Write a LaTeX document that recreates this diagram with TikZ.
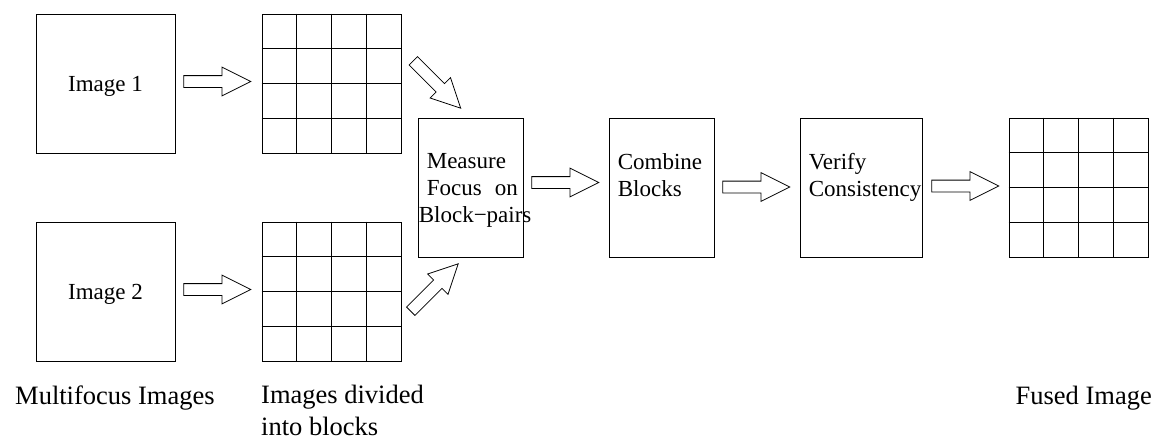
\documentclass[tikz,border=0pt]{standalone}
\usepackage{fontspec}
\setmainfont{Liberation Serif}
\usetikzlibrary{calc,shapes.arrows}

\begin{document}
\begin{tikzpicture}[x=1pt,y=-1pt]
% Block style
\tikzset{
    imgbox/.style={draw, line width=0.8pt, minimum width=139pt, minimum height=139pt,
        inner sep=0pt, text depth=0pt, font=\fontsize{23}{27}\selectfont},
    stagebox/.style={draw, line width=0.8pt, minimum height=139pt, inner sep=0pt},
    stagetext/.style={anchor=north west, inner sep=0pt, align=left,
        font=\fontsize{23}{27}\selectfont},
    caption/.style={inner sep=0pt, align=left, font=\fontsize{26.5}{32}\selectfont},
    fatarrow/.style={draw, line width=0.8pt, single arrow, anchor=tail, minimum height=67pt,
        inner sep=0pt, inner ysep=5.5pt, single arrow head extend=8.5pt,
        single arrow tip angle=53.13}
}
\useasboundingbox (0,0) rectangle (1154,437);
% Input images
\node[imgbox] (IMGa) at (105.5,83.5) {Image 1};
\node[imgbox] (IMGb) at (105.5,291.5) {Image 2};
% Images cut into blocks
\node[imgbox] (GRIDa) at (331.5,83.5) {};
\node[imgbox] (GRIDb) at (331.5,291.5) {};
\node[imgbox] (FUSED) at (1078.5,187.5) {};
\foreach \g in {GRIDa,GRIDb,FUSED}
  \foreach \k in {1,2,3}{
    \draw[line width=0.8pt] ($(\g.north west)!\k/4!(\g.north east)$) -- ($(\g.south west)!\k/4!(\g.south east)$);
    \draw[line width=0.8pt] ($(\g.north west)!\k/4!(\g.south west)$) -- ($(\g.north east)!\k/4!(\g.south east)$);
  }
% Processing steps
\node[stagebox, minimum width=105pt] (MEAS) at (470.5,187.5) {};
\node[stagebox, minimum width=105pt] (COMB) at (661.5,187.5) {};
\node[stagebox, minimum width=122pt] (VER) at (861,187.5) {};
\node[stagetext, text width=91pt] (MEAStxt) at ([xshift=9pt,yshift=-36pt]MEAS.north west)
    {Measure\\Focus\hfill on\\\hspace*{-8pt}Block−pairs};
\node[stagetext] (COMBtxt) at ([xshift=9pt,yshift=-36pt]COMB.north west) {Combine\\Blocks};
\node[stagetext] (VERtxt) at ([xshift=9pt,yshift=-36pt]VER.north west) {Verify\\Consistency};
% Flow
\node[fatarrow] (ARRa) at ([shift={(8pt,2pt)}]IMGa.east) {};
\node[fatarrow] (ARRb) at ([shift={(8pt,2pt)}]IMGb.east) {};
\node[fatarrow, rotate=-45] (ARRc) at (413,60.5) {};
\node[fatarrow, rotate=45] (ARRd) at (410.5,311.5) {};
\node[fatarrow] (ARRe) at ([shift={(8pt,5pt)}]MEAS.east) {};
\node[fatarrow] (ARRf) at ([shift={(8pt,0.5pt)}]COMB.east) {};
\node[fatarrow] (ARRg) at ([shift={(9pt,1.5pt)}]VER.east) {};
% Captions
\node[caption, anchor=base west] (CAPa) at (15,404) {Multifocus Images};
\node[caption, anchor=north west] (CAPb) at (261,385) {Images divided\\into blocks};
\node[caption, anchor=base east] (CAPc) at (1152,404) {Fused Image};
\end{tikzpicture}
\end{document}
